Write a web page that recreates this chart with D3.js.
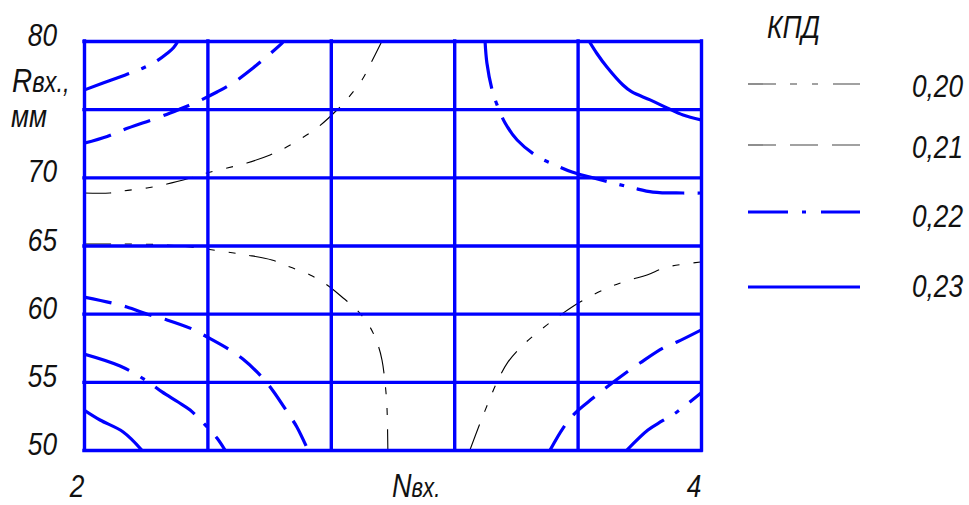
<!DOCTYPE html>
<html>
<head>
<meta charset="utf-8">
<script src="https://cdn.jsdelivr.net/npm/d3@7/dist/d3.min.js"></script>
<style>
  html, body { margin: 0; padding: 0; background: #fff; }
  svg { display: block; }
  text { font-family: "Liberation Sans", Arial, sans-serif; font-style: italic; fill: #111; }
</style>
</head>
<body>
<svg id="chart" width="969" height="505"></svg>
<script>
// ---------- data ----------
const levels = ["0,20", "0,21", "0,22", "0,23"];
const xDomain = [2, 4];
const yDomain = [50, 80];
const xTickValues = [2, 2.4, 2.8, 3.2, 3.6, 4];
const yTickValues = [50, 55, 60, 65, 70, 75, 80];
const xTickLabels = ["2", "", "", "", "", "4"];
const yTickLabels = ["50", "55", "60", "65", "70", "", "80"];

// contour lines: [N, R] points
const k020TopLeft = [[2.000,68.85],[2.084,68.85],[2.126,69.0],[2.204,69.22],[2.269,69.51],[2.344,69.95],[2.399,70.32],[2.464,70.68],[2.528,71.05],[2.603,71.64],[2.645,72.08],[2.707,72.89],[2.759,73.69],[2.820,74.94],[2.856,75.82],[2.901,77.14],[2.927,78.24],[2.966,80]];
const k020BottomLeft = [[2.000,65.11],[2.084,65.11],[2.149,65.11],[2.269,65.04],[2.344,64.89],[2.464,64.52],[2.528,64.30],[2.609,63.94],[2.668,63.42],[2.733,62.84],[2.788,62.10],[2.840,61.15],[2.885,60.27],[2.927,59.02],[2.953,57.70],[2.966,56.60],[2.976,54.91],[2.982,53.15],[2.985,50]];
const k020BottomRight = [[3.251,50],[3.284,51.98],[3.310,53.45],[3.339,54.99],[3.374,56.45],[3.423,57.70],[3.488,58.95],[3.549,59.98],[3.608,60.86],[3.705,61.96],[3.770,62.47],[3.825,62.84],[3.890,63.42],[4.000,63.79]];
const k021TopLeft = [[2.000,72.5],[2.075,73.0],[2.126,73.47],[2.246,74.43],[2.311,75.01],[2.366,75.53],[2.431,76.26],[2.483,76.92],[2.548,78.02],[2.587,78.75],[2.642,79.85],[2.648,80]];
const k021BottomLeft = [[2.000,61.22],[2.091,60.78],[2.139,60.49],[2.214,59.90],[2.269,59.54],[2.350,58.88],[2.399,58.29],[2.473,57.34],[2.515,56.67],[2.577,55.35],[2.613,54.33],[2.661,52.71],[2.690,51.69],[2.726,50]];
const k021BottomRight = [[3.511,50],[3.553,51.61],[3.592,52.71],[3.650,53.81],[3.695,54.62],[3.760,55.72],[3.802,56.38],[3.877,57.48],[3.922,57.92],[4.000,58.80]];
const k022TopLeft = [[2.000,76.4],[2.107,77.29],[2.190,78.0],[2.240,78.6],[2.270,79.1],[2.290,79.5],[2.305,80]];
const k022TopRight = [[3.300,80],[3.306,78.39],[3.323,76.41],[3.339,75.31],[3.365,73.99],[3.404,72.74],[3.472,71.49],[3.520,70.98],[3.582,70.39],[3.640,70.02],[3.728,69.51],[3.780,69.22],[3.844,68.92],[3.942,68.85],[4.000,68.85]];
const k022BottomLeft = [[2.000,57.04],[2.117,56.16],[2.204,55.06],[2.253,54.26],[2.305,53.52],[2.344,52.93],[2.399,51.69],[2.431,50.88],[2.457,50]];
const k022BottomRight = [[3.760,50],[3.828,51.47],[3.874,52.13],[3.922,52.79],[4.000,54.18]];
const k023TopRight = [[3.637,80],[3.662,79.1],[3.695,78.09],[3.747,76.77],[3.776,76.26],[3.835,75.68],[3.890,75.09],[3.942,74.57],[4.000,74.21]];
const k023BottomLeft = [[2.000,52.93],[2.052,52.2],[2.127,51.32],[2.187,50]];

const contours = [
  { level: "0,20", points: k020TopLeft },
  { level: "0,20", points: k020BottomLeft },
  { level: "0,20", points: k020BottomRight },
  { level: "0,21", points: k021TopLeft },
  { level: "0,21", points: k021BottomLeft },
  { level: "0,21", points: k021BottomRight },
  { level: "0,22", points: k022TopLeft },
  { level: "0,22", points: k022TopRight },
  { level: "0,22", points: k022BottomLeft },
  { level: "0,22", points: k022BottomRight },
  { level: "0,23", points: k023TopRight },
  { level: "0,23", points: k023BottomLeft }
];

// ---------- styles ----------
const BLUE = "#0000ff";
const plotStyle = {
  "0,20": { stroke: "#000", width: 1.1, dash: "27 14 7 14 7 14" },
  "0,21": { stroke: BLUE, width: 3.2, dash: "28 14" },
  "0,22": { stroke: BLUE, width: 3.2, dash: "48 13 5 13" },
  "0,23": { stroke: BLUE, width: 3.2, dash: null }
};
const legendStyle = {
  "0,20": { stroke: "#444", width: 1.2, dash: "28 14 7 15 6 15" },
  "0,21": { stroke: "#444", width: 1.2, dash: "28 14" },
  "0,22": { stroke: BLUE, width: 3.2, dash: "40 14 4 15" },
  "0,23": { stroke: BLUE, width: 3.2, dash: null }
};

// ---------- layout ----------
const svg = d3.select("#chart");
const x = d3.scaleLinear().domain(xDomain).range([84, 701]);
const y = d3.scaleLinear().domain(yDomain).range([450, 41]);
const SX = 0.82;

function label(parent, px, py, parts, anchor) {
  const g = parent.append("g").attr("transform", `translate(${px},${py}) scale(${SX},1)`);
  const t = g.append("text").attr("text-anchor", anchor || "start");
  parts.forEach(p => t.append("tspan").attr("font-size", p.size).text(p.t));
  return g;
}

// clip
svg.append("clipPath").attr("id", "plotclip")
  .append("rect").attr("x", 84).attr("y", 41).attr("width", 617).attr("height", 409);

// contour curves
const line = d3.line().x(d => x(d[0])).y(d => y(d[1])).curve(d3.curveCatmullRom.alpha(0.5));
svg.append("g").attr("clip-path", "url(#plotclip)")
  .selectAll("path").data(contours).join("path")
  .attr("d", d => line(d.points))
  .attr("fill", "none")
  .attr("stroke", d => plotStyle[d.level].stroke)
  .attr("stroke-width", d => plotStyle[d.level].width)
  .attr("stroke-dasharray", d => plotStyle[d.level].dash)
  .attr("stroke-linecap", "butt");

// grid (axes drawn as full-length blue lines)
const grid = svg.append("g");
grid.append("g").attr("transform", `translate(0,${y(yDomain[0])})`)
  .call(d3.axisBottom(x).tickValues(xTickValues).tickSize(-(y(yDomain[0]) - y(yDomain[1]))).tickFormat(""))
  .call(g => g.select(".domain").remove());
grid.append("g").attr("transform", `translate(${x(xDomain[0])},0)`)
  .call(d3.axisLeft(y).tickValues(yTickValues).tickSize(-(x(xDomain[1]) - x(xDomain[0]))).tickFormat(""))
  .call(g => g.select(".domain").remove());
grid.selectAll(".tick line").attr("stroke", BLUE).attr("stroke-width", 3.4).attr("stroke-linecap", "square");

// y tick labels
yTickValues.forEach((v, i) => {
  if (yTickLabels[i]) label(svg, 57, y(v) + 5, [{ t: yTickLabels[i], size: 32 }], "end");
});
// x tick labels
xTickValues.forEach((v, i) => {
  if (xTickLabels[i]) label(svg, x(v) - 7, 497, [{ t: xTickLabels[i], size: 32 }], "middle");
});

// axis titles
label(svg, 12, 92, [{ t: "R", size: 34 }, { t: "вх.,", size: 29 }]);
label(svg, 11, 127, [{ t: "мм", size: 32 }]);
label(svg, 392, 497, [{ t: "N", size: 33 }, { t: "вх.", size: 27 }]);

// legend
label(svg, 767, 38, [{ t: "КПД", size: 32 }]);
const legendY = [84, 145, 212, 287];
const legendTextY = [97, 158, 227, 297];
levels.forEach((lv, i) => {
  const s = legendStyle[lv];
  svg.append("line")
    .attr("x1", 748).attr("x2", 860).attr("y1", legendY[i]).attr("y2", legendY[i])
    .attr("stroke", s.stroke).attr("stroke-width", s.width)
    .attr("stroke-dasharray", s.dash);
  label(svg, 912, legendTextY[i], [{ t: lv, size: 32 }]);
});
</script>
</body>
</html>
